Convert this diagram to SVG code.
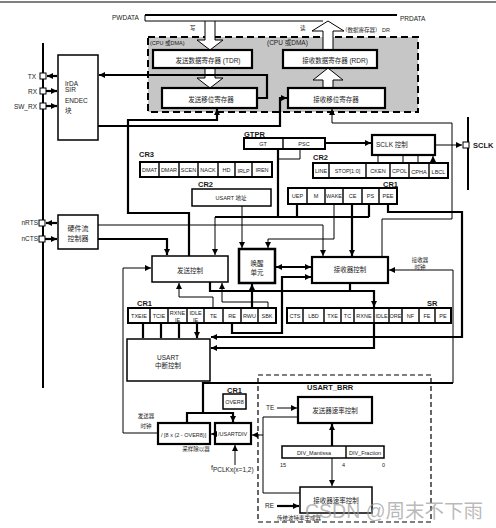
<svg xmlns="http://www.w3.org/2000/svg" width="496" height="528" viewBox="0 0 496 528">
<style>
text{font-family:"Liberation Sans","Noto Sans CJK SC",sans-serif;fill:#1a1a1a}
.s{font-size:5.5px}
.m{font-size:6.5px}
.l{font-size:7px}
.b{font-size:7.5px;font-weight:bold}
.c{text-anchor:middle}
.r{text-anchor:end}
.box{fill:#fff;stroke:#000;stroke-width:1.5}
.bx2{fill:#fff;stroke:#000;stroke-width:2.2}
.row{fill:#fff;stroke:#000;stroke-width:2}
.dv{stroke:#000;stroke-width:1.4}
.w{fill:none;stroke:#000;stroke-width:2.2}
.n{fill:none;stroke:#000;stroke-width:1}
.a{marker-end:url(#ah)}
.aa{marker-end:url(#ah);marker-start:url(#ah)}
.pin{fill:#fff;stroke:#000;stroke-width:1}
.hol{fill:#fff;stroke:#000;stroke-width:1}
</style>
<defs>
<marker id="ah" viewBox="0 0 8 8" refX="8" refY="4" markerWidth="6" markerHeight="6" markerUnits="userSpaceOnUse" orient="auto-start-reverse"><path d="M0,0L8,4L0,8z" fill="#000"/></marker>
</defs>

<line x1="0" y1="2" x2="496" y2="2" stroke="#000" stroke-width="1"/>

<g id="bus">
<text x="112" y="20" class="m">PWDATA</text>
<text x="400" y="21" class="m">PRDATA</text>
<line x1="145" y1="15" x2="397" y2="15" stroke="#000" stroke-width="2.2"/>
<path d="M145,15V21H205M215,21H323" class="n"/>
<text x="190" y="30" class="s">写</text>
<text x="300" y="30" class="s">读</text>
<text x="342" y="32" class="s">（数据寄存器） DR</text>
</g>

<g id="dataregs">
<rect x="148" y="37" width="270" height="75" fill="#c6c6c6" stroke="#000" stroke-width="2" stroke-dasharray="7,4"/>
<text x="150" y="45" class="s">(CPU 或DMA)</text>
<text x="267" y="45" class="m">(CPU 或DMA)</text>
<polygon points="205,21 205,40 197,40 210,50 223,40 215,40 215,21" class="hol"/>
<polygon points="323,50 323,31 312,31 328,21 344,31 333,31 333,50" class="hol"/>
<polygon points="205,68 205,78 197,78 210,88 223,78 215,78 215,68" class="hol"/>
<polygon points="323,88 323,80 313,80 328,68 343,80 333,80 333,88" class="hol"/>
</g>
<g id="tdr"><rect x="153" y="50" width="99" height="18" class="bx2"/><text x="208" y="63" class="m c">发送数据寄存器 (TDR)</text></g>
<g id="txshift"><rect x="162" y="88" width="95" height="20" class="bx2"/><text x="211" y="102" class="m c">发送移位寄存器</text></g>
<g id="rdr"><rect x="283" y="50" width="94" height="18" class="bx2"/><text x="335" y="63" class="m c">接收数据寄存器 (RDR)</text></g>
<g id="rxshift"><rect x="288" y="88" width="97" height="20" class="bx2"/><text x="336" y="102" class="m c">接收移位寄存器</text></g>

<g id="pins">
<line x1="43" y1="43" x2="43" y2="388" stroke="#000" stroke-width="2"/>
<line x1="468" y1="117" x2="468" y2="190" stroke="#000" stroke-width="2"/>
<rect x="40" y="73" width="6" height="6" class="pin"/><text x="36" y="79" class="m r">TX</text>
<rect x="40" y="88" width="6" height="6" class="pin"/><text x="37" y="94" class="m r">RX</text>
<rect x="40" y="103" width="6" height="6" class="pin"/><text x="37" y="109" class="m r">SW_RX</text>
<rect x="39" y="220" width="6" height="6" class="pin"/><text x="38" y="225" class="m r">nRTS</text>
<rect x="39" y="236" width="6" height="6" class="pin"/><text x="38" y="241" class="m r">nCTS</text>
<rect x="463" y="142" width="6" height="6" class="pin"/><text x="473" y="148" class="b">SCLK</text>
</g>

<g id="irda"><rect x="58" y="55" width="40" height="85" class="box"/>
<text x="65" y="86" class="m">IrDA</text><text x="65" y="92" class="m">SIR</text><text x="65" y="103" class="m">ENDEC</text><text x="65" y="113" class="m">块</text></g>
<g id="hwflow"><rect x="58" y="215" width="40" height="34" class="box"/>
<text x="78" y="231" class="l c">硬件流</text><text x="78" y="241" class="l c">控制器</text></g>

<g id="gtpr"><text x="244" y="137" class="b">GTPR</text>
<rect x="244" y="138" width="81" height="11" class="row"/><line x1="283" y1="138" x2="283" y2="149" class="dv"/>
<text x="263" y="146" class="s c">GT</text><text x="304" y="146" class="s c">PSC</text></g>
<g id="sclkctl"><rect x="372" y="135" width="63" height="20" class="bx2"/><text x="376" y="147" class="m">SCLK 控制</text></g>

<g id="cr3"><text x="139" y="157" class="b">CR3</text>
<rect x="140" y="162" width="132" height="15" class="row"/>
<path d="M159,162V177M179,162V177M198,162V177M218,162V177M235,162V177M252,162V177" class="dv"/>
<text x="149.5" y="172" class="s c">DMAT</text><text x="169" y="172" class="s c">DMAR</text><text x="188.5" y="172" class="s c">SCEN</text><text x="208" y="172" class="s c">NACK</text><text x="226.5" y="172" class="s c">HD</text><text x="243.5" y="173" class="s c">IRLP</text><text x="262" y="172" class="s c">IREN</text></g>

<g id="cr2a"><text x="313" y="160" class="b">CR2</text>
<rect x="313" y="163" width="135" height="15" class="row"/>
<path d="M329,163V178M366,163V178M390,163V178M409,163V178M429,163V178" class="dv"/>
<text x="321" y="173" class="s c">LINE</text><text x="347.5" y="173" class="s c">STOP[1:0]</text><text x="378" y="173" class="s c">CKEN</text><text x="399.5" y="173" class="s c">CPOL</text><text x="419" y="174" class="s c">CPHA</text><text x="438.5" y="174" class="s c">LBCL</text></g>

<g id="cr2b"><text x="198" y="187" class="b">CR2</text>
<rect x="192" y="189" width="79" height="17" class="box"/><text x="231" y="200" class="s c">USART 地址</text></g>

<g id="cr1a"><text x="383" y="187" class="b">CR1</text>
<rect x="288" y="188" width="109" height="16" class="row"/>
<path d="M307,188V204M325,188V204M343,188V204M362,188V204M379,188V204" class="dv"/>
<text x="297.5" y="198" class="s c">UEP</text><text x="316" y="198" class="s c">M</text><text x="334" y="198" class="s c">WAKE</text><text x="352.5" y="198" class="s c">CE</text><text x="370.5" y="198" class="s c">PS</text><text x="388" y="198" class="s c">PEE</text></g>

<g id="txctl"><rect x="152" y="256" width="76" height="26" class="box"/><text x="190" y="273" class="m c">发送控制</text></g>
<g id="wakeup"><rect x="239" y="249" width="36" height="34" fill="#fff" stroke="#000" stroke-width="2.5"/><text x="257" y="266" class="m c">唤醒</text><text x="257" y="275" class="m c">单元</text></g>
<g id="rxctl"><rect x="312" y="257" width="76" height="26" class="bx2"/><text x="350" y="272" class="m c">接收器控制</text></g>
<text x="420" y="262" class="s c">接收器</text><text x="420" y="269" class="s c">时钟</text>

<g id="cr1b"><text x="137" y="306" class="b">CR1</text>
<rect x="128" y="308" width="148" height="15" class="row"/>
<path d="M150,308V323M168,308V323M187,308V323M204,308V323M223,308V323M241,308V323M258,308V323" class="dv"/>
<text x="139" y="318" class="s c">TXEIE</text><text x="159" y="318" class="s c">TCIE</text><text x="177.5" y="314.5" class="s c">RXNE</text><text x="177.5" y="321.5" class="s c">IE</text><text x="195.5" y="314.5" class="s c">IDLE</text><text x="195.5" y="321.5" class="s c">IE</text><text x="213.5" y="318" class="s c">TE</text><text x="232" y="318" class="s c">RE</text><text x="249.5" y="318" class="s c">RWU</text><text x="267" y="318" class="s c">SBK</text></g>

<g id="sr"><text x="427" y="306" class="b">SR</text>
<rect x="287" y="308" width="164" height="15" class="row"/>
<path d="M303,308V323M324,308V323M341,308V323M354,308V323M374,308V323M389,308V323M402,308V323M419,308V323M435,308V323" class="dv"/>
<text x="295" y="318" class="s c">CTS</text><text x="313.5" y="318" class="s c">LBD</text><text x="332.5" y="318" class="s c">TXE</text><text x="347.5" y="318" class="s c">TC</text><text x="364" y="318" class="s c">RXNE</text><text x="381.5" y="318" class="s c">IDLE</text><text x="395.5" y="318" class="s c">ORE</text><text x="410.5" y="318" class="s c">NF</text><text x="427" y="318" class="s c">FE</text><text x="443" y="318" class="s c">PE</text></g>

<g id="irqctl"><rect x="127" y="339" width="83" height="42" class="box"/><text x="168" y="360" class="m c">USART</text><text x="168" y="368" class="m c">中断控制</text></g>

<g id="over8"><text x="227" y="393" class="b">CR1</text><rect x="223" y="394" width="23" height="15" class="box"/><text x="234.5" y="404" class="s c">OVER8</text></g>
<g id="div8"><rect x="158" y="423" width="52" height="21" class="bx2"/><text x="161" y="437" class="s">/ [8 x (2 - OVER8)]</text><text x="196" y="451" class="s c">采样除以器</text></g>
<g id="usartdiv"><rect x="215" y="423" width="36" height="21" class="bx2"/><text x="218" y="436" class="s">/USARTDIV</text></g>
<text x="146" y="418" class="s c">发送器</text><text x="146" y="428" class="s c">时钟</text>
<text x="211" y="470" class="l">f<tspan font-size="6.5" dy="2">PCLKx(x=1,2)</tspan></text>

<g id="brr">
<rect x="258" y="375" width="173" height="147" fill="none" stroke="#000" stroke-width="1.2" stroke-dasharray="5,3"/>
<text x="307" y="390" class="b">USART_BRR</text>
<text x="266" y="410" class="m">TE</text>
<text x="265" y="508" class="m">RE</text>
<text x="280" y="467" class="s">15</text><text x="342" y="467" class="s">4</text><text x="382" y="467" class="s">0</text>
<text x="277" y="520" class="s">传统波特率生成器</text>
</g>
<g id="txrate"><rect x="298" y="397" width="74" height="26" class="bx2"/><text x="335" y="413" class="m c">发送器速率控制</text></g>
<g id="divreg"><rect x="282" y="446" width="102" height="12" class="box"/><line x1="346" y1="446" x2="346" y2="458" class="dv"/>
<text x="314" y="455" class="s c">DIV_Mantissa</text><text x="365" y="455" class="s c">DIV_Fraction</text></g>
<g id="rxrate"><rect x="300" y="487" width="72" height="26" class="box"/><text x="336" y="503" class="m c">接收器速率控制</text></g>

<g id="connectors">
<path d="M57,76H47" class="w a"/>
<path d="M46,91H57" class="w a"/>
<path d="M46,106H57" class="w a"/>
<path d="M57,223H46" class="w a"/>
<path d="M45,239H57" class="w a"/>
<path d="M257,98H267V75H99" class="w a"/>
<path d="M98,126H280V98H287" class="w a"/>
<path d="M189,256V213H128V120H217V109" class="w a"/>
<path d="M382,256V219H452V123H332V109" class="n a"/>
<path d="M325,143H371" class="w a"/>
<path d="M435,145H462" class="n a" stroke-width="1.3"/>
<path d="M378,163V156M403,163V156M418,163V156M433,163V156" class="n a"/>
<path d="M300,149V159H278" class="n"/>
<path d="M278,149V217M215,217H369M297,204V217M369,204V217" class="w"/>
<path d="M215,217V255" class="n a" stroke-width="1.3"/>
<path d="M242,206V248" class="n a"/>
<path d="M334,204V239H268V248" class="n a"/>
<path d="M98,225H323V256" class="n a"/>
<path d="M98,239H167V255" class="w a"/>
<path d="M352,204V256" class="w a"/>
<path d="M388,204V212H462V337H211" class="w a"/>
<path d="M276,267H311" class="w aa"/>
<path d="M232,323V333H282V277H311" class="w a"/>
<path d="M210,282V291H374V307" class="w a"/>
<path d="M350,283V291" class="w"/>
<path d="M213,308V297H179V283" class="n a"/>
<path d="M268,308V302H222V283" class="n a"/>
<path d="M252,308V284" class="w a"/>
<path d="M143,323V338M161,323V338M179,323V338M197,323V338" class="w a"/>
<path d="M374,323V348H211" class="w a"/>
<path d="M158,433H123V268H151" class="n a"/>
<path d="M453,383V270H389" class="n a"/>
<path d="M453,383H203V413" class="w"/>
<path d="M203,413H187V422M203,413H233V422" class="w a"/>
<path d="M215,434H211" class="n a"/>
<path d="M263,435H252" class="n a"/>
<path d="M298,417H263V493H300" class="n"/>
<path d="M235,465V445" class="n a"/>
<path d="M277,408H297" class="n a"/>
<path d="M277,506H299" class="w a"/>
<path d="M332,446V424" class="w a"/>
<path d="M332,458V486" class="n a"/>
</g>

<text x="305" y="518" font-size="19.5" style="fill:#9a9a9a;fill-opacity:0.7">CSDN @周末不下雨</text>
</svg>
